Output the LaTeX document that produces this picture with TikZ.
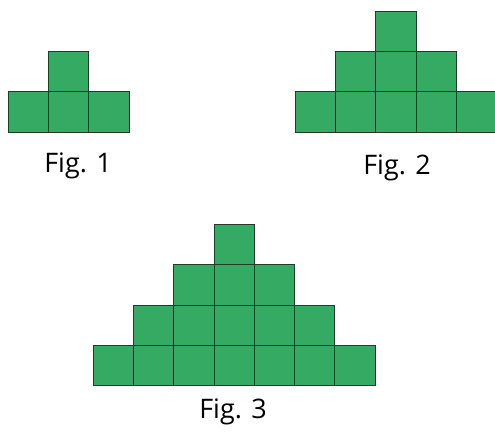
\documentclass[tikz,border=0pt]{standalone}
\usepackage{fontspec}
\setmainfont{Open Sans}
\usepackage{tikz}
\usetikzlibrary{positioning}
\definecolor{TileGreen}{HTML}{35AA62}
\definecolor{TileEdge}{HTML}{253A2C}

\begin{document}
\begin{tikzpicture}[
  x=1bp,y=-1bp,
  cell/.style={draw=TileEdge,fill=TileGreen,line width=0.7bp,minimum size=40.3bp,inner sep=0pt,outer sep=0pt},
  figlabel/.style={font=\fontsize{27}{30}\selectfont,anchor=base}
]
\useasboundingbox (0,0) rectangle (495,433);
\clip (0,0) rectangle (495,433);

% Fig. 1: two rows, bottom-left corner at (8,132)
\foreach \r in {0,1} {
  \pgfmathtruncatemacro\lastc{2-\r}
  \foreach \c in {\r,...,\lastc} {
    \node[cell] (one-\r-\c) at ({8+40.3*(\c+0.5)},{132-40.3*(\r+0.5)}) {};
  }
}
\node[figlabel] (figone) at (78,173) {Fig. 1};

% Fig. 2: three rows, bottom-left corner at (295,132)
\foreach \r in {0,1,2} {
  \pgfmathtruncatemacro\lastc{4-\r}
  \foreach \c in {\r,...,\lastc} {
    \node[cell] (two-\r-\c) at ({295+40.3*(\c+0.5)},{132-40.3*(\r+0.5)}) {};
  }
}
\node[figlabel] (figtwo) at (397,175) {Fig. 2};

% Fig. 3: four rows, bottom-left corner at (93,385)
\foreach \r in {0,1,2,3} {
  \pgfmathtruncatemacro\lastc{6-\r}
  \foreach \c in {\r,...,\lastc} {
    \node[cell] (three-\r-\c) at ({93+40.3*(\c+0.5)},{385.5-40.3*(\r+0.5)}) {};
  }
}
\node[figlabel] (figthree) at (233,418) {Fig. 3};

\end{tikzpicture}
\end{document}
